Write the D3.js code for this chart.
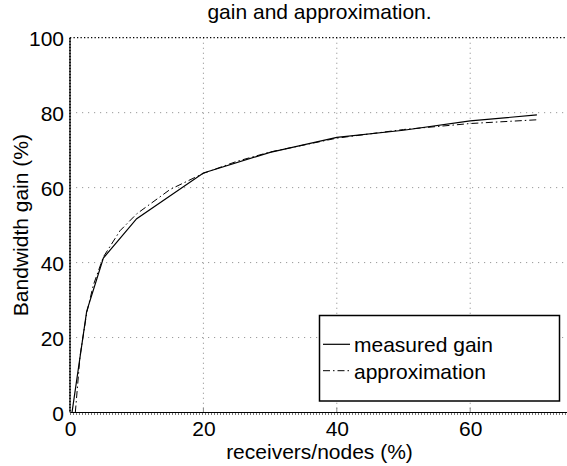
<!DOCTYPE html>
<html>
<head>
<meta charset="utf-8">
<script src="https://cdn.jsdelivr.net/npm/d3@7"></script>
<style>
  html, body { margin: 0; padding: 0; background: #fff; }
  svg { display: block; font-family: "Liberation Sans", Arial, sans-serif; }
</style>
</head>
<body>
<svg id="chart" width="567" height="466"></svg>
<script>
// ---- data ----
const titleText = "gain and approximation.";
const xLabel = "receivers/nodes (%)";
const yLabel = "Bandwidth gain (%)";
const seriesNames = ["measured gain", "approximation"];
const xTicks = [0, 20, 40, 60];
const yTicks = [0, 20, 40, 60, 80, 100];
const measuredX = [0.3, 2.5, 5, 10, 20, 30, 40, 50, 60, 70];
const measuredY = [0, 27, 41.2, 51.7, 63.9, 69.4, 73.4, 75.3, 77.8, 79.4];
const approxX = [0.8, 1.5, 2.5, 3.5, 5, 7.5, 10, 15, 20, 25, 30, 40, 50, 60, 70];
const approxY = [0, 15, 26.5, 34, 41.5, 48.5, 53, 59.5, 63.8, 67, 69.5, 73.2, 75.5, 77.1, 78.1];

(function () {
// ---- layout ----
const svg = d3.select("#chart");
const L = 70, T = 37.7, B = 412.5;
const x = d3.scaleLinear().domain([0, 80]).range([L, L + 80 * 6.67]);
const y = d3.scaleLinear().domain([0, 100]).range([B, T]);
const fs = 21;

// grid
const g = svg.append("g");
g.selectAll(".vg").data(xTicks.filter(d => d > 0)).enter().append("line")
  .attr("x1", d => x(d)).attr("x2", d => x(d)).attr("y1", T).attr("y2", B)
  .attr("stroke", "#9a9a9a").attr("stroke-width", 1).attr("stroke-dasharray", "1.2,3.8");
g.selectAll(".hg").data(yTicks.filter(d => d > 0 && d < 100)).enter().append("line")
  .attr("x1", L).attr("x2", 567).attr("y1", d => y(d)).attr("y2", d => y(d))
  .attr("stroke", "#9a9a9a").attr("stroke-width", 1).attr("stroke-dasharray", "1.2,4.8");
// top line (dark dotted)
g.append("line").attr("x1", L).attr("x2", 567).attr("y1", y(100)).attr("y2", y(100))
  .attr("stroke", "#000").attr("stroke-width", 1.3).attr("stroke-dasharray", "1.3,2.2");

// axes
const xAxis = d3.axisBottom(x).tickValues(xTicks).tickSize(0).tickPadding(6);
const yAxis = d3.axisLeft(y).tickValues(yTicks).tickSize(0).tickPadding(6);
const gx = svg.append("g").attr("transform", `translate(0,${B})`).call(xAxis);
const gy = svg.append("g").attr("transform", `translate(${L},0)`).call(yAxis);
[gx, gy].forEach(a => {
  a.select(".domain").remove();
  a.selectAll("text").attr("font-size", fs).attr("fill", "#000")
    .attr("font-family", "Liberation Sans, Arial, sans-serif");
});
gx.selectAll("text").attr("dy", "0.82em");
gy.selectAll("text").attr("dy", "0.36em");

// small major ticks (gray) inside
svg.selectAll(".xt").data(xTicks.filter(d => d > 0)).enter().append("line")
  .attr("x1", d => x(d)).attr("x2", d => x(d)).attr("y1", B).attr("y2", B - 5)
  .attr("stroke", "#888").attr("stroke-width", 1);

// bottom axis line with hatch
svg.append("line").attr("x1", L).attr("x2", 567).attr("y1", B).attr("y2", B)
  .attr("stroke", "#000").attr("stroke-width", 1);
svg.append("line").attr("x1", L).attr("x2", 567).attr("y1", B + 1.5).attr("y2", B + 1.5)
  .attr("stroke", "#777").attr("stroke-width", 2).attr("stroke-dasharray", "1,2");
// left axis line (dense dashed)
svg.append("line").attr("x1", L).attr("x2", L).attr("y1", T).attr("y2", B)
  .attr("stroke", "#555").attr("stroke-width", 1.6);
svg.append("line").attr("x1", L).attr("x2", L).attr("y1", T).attr("y2", B)
  .attr("stroke", "#000").attr("stroke-width", 1.6).attr("stroke-dasharray", "1.5,1.5");

// lines
const line = d3.line().x(d => x(d[0])).y(d => y(d[1]));
const measured = measuredX.map((v, i) => [v, measuredY[i]]);
const approx = approxX.map((v, i) => [v, approxY[i]]);
svg.append("path").datum(approx).attr("d", line).attr("fill", "none")
  .attr("stroke", "#000").attr("stroke-width", 1).attr("stroke-dasharray", "7,3,1.5,3");
svg.append("path").datum(measured).attr("d", line).attr("fill", "none")
  .attr("stroke", "#000").attr("stroke-width", 1.2);

// legend
const lg = svg.append("g");
lg.append("rect").attr("x", 319.5).attr("y", 315.5).attr("width", 240).attr("height", 85.5)
  .attr("fill", "#fff").attr("stroke", "#000").attr("stroke-width", 1.5);
const styles = [null, "7,3,1.5,3"];
const rows = [344.3, 370.7];
const baselines = [352.3, 379];
seriesNames.forEach((name, i) => {
  lg.append("line").attr("x1", 323).attr("x2", 350).attr("y1", rows[i]).attr("y2", rows[i])
    .attr("stroke", "#000").attr("stroke-width", i ? 1 : 1.2)
    .attr("stroke-dasharray", styles[i]);
  lg.append("text").attr("x", 354).attr("y", baselines[i]).attr("font-size", fs).text(name);
});

// title & labels
svg.append("text").attr("x", 319.5).attr("y", 18.5).attr("text-anchor", "middle")
  .attr("font-size", fs).text(titleText);
svg.append("text").attr("x", 319.5).attr("y", 459).attr("text-anchor", "middle")
  .attr("font-size", fs).text(xLabel);
svg.append("text").attr("transform", `translate(28,${(T + B) / 2}) rotate(-90)`)
  .attr("text-anchor", "middle").attr("font-size", fs).text(yLabel);
})();
</script>
</body>
</html>
